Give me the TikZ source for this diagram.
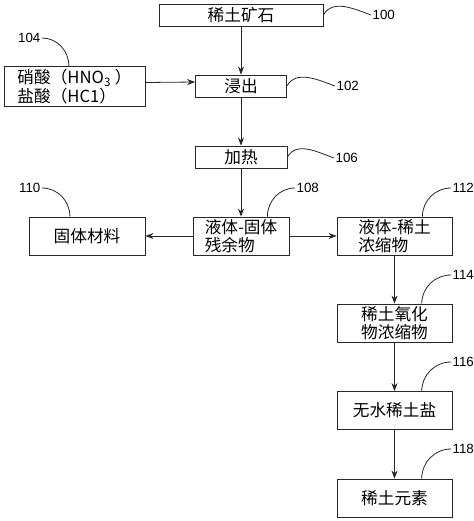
\documentclass[tikz,border=0pt]{standalone}
\usepackage{fontspec}
\setmainfont{Liberation Sans}
\newfontfamily\cjk{Noto Sans CJK SC}
\usetikzlibrary{arrows.meta}
\tikzset{
  box/.style={draw=black!85, line width=0.6pt, inner sep=2pt, align=left,
    font=\cjk\fontsize{12.5}{13}\selectfont},
  flow/.style={draw=black!85, line width=0.6pt, -{Stealth[length=6pt,width=4.5pt]}},
  callout/.style={draw=black!85, line width=0.6pt},
  num/.style={inner sep=1pt, font=\fontsize{10}{12}\selectfont},
}
\begin{document}
\begin{tikzpicture}[x=0.75pt,y=0.75pt]
\useasboundingbox (0,0) rectangle (474,-521);
% boxes
\node[box, minimum width=123pt, minimum height=16.5pt] (ore) at (241,-15) {稀土矿石};
\node[box, minimum width=105.75pt, minimum height=27.75pt] (acid) at (74.5,-86.5) {硝酸（HNO\textsubscript{3} ）\\盐酸（HC1）};
\node[box, minimum width=68.25pt, minimum height=16.5pt] (leach) at (241,-86) {浸出};
\node[box, minimum width=69pt, minimum height=16.5pt] (heat) at (241,-157) {加热};
\node[box, minimum width=72pt, minimum height=28.5pt] (resid) at (241,-236) {液体-固体\\残余物};
\node[box, minimum width=87pt, minimum height=28.5pt] (solid) at (87,-236) {固体材料};
\node[box, minimum width=86.25pt, minimum height=28.5pt] (conc) at (394.5,-236) {液体-稀土\\浓缩物};
\node[box, minimum width=86.25pt, minimum height=28.5pt] (oxide) at (394.5,-323) {稀土氧化\\物浓缩物};
\node[box, minimum width=86.25pt, minimum height=28.5pt] (salt) at (394.5,-410.5) {无水稀土盐};
\node[box, minimum width=86.25pt, minimum height=28.5pt] (elem) at (394.5,-498) {稀土元素};
%
% arrows
\draw[flow] (ore) -- (leach);
\draw[flow] ([yshift=3pt]acid.east) -- ([yshift=3pt]leach.west);
\draw[flow] (leach) -- (heat);
\draw[flow] (heat) -- (resid);
\draw[flow] (resid) -- (solid);
\draw[flow] (resid) -- (conc);
\draw[flow] (conc) -- (oxide);
\draw[flow] (oxide) -- (salt);
\draw[flow] (salt) -- (elem);
%
% labels
\node[num, anchor=west] (lab100) at (371,-15) {100};
\node[num, anchor=west] (lab102) at (335,-86) {102};
\node[num, anchor=east] (lab104) at (42,-38) {104};
\node[num, anchor=west] (lab106) at (334,-158) {106};
\node[num, anchor=west] (lab108) at (295,-188) {108};
\node[num, anchor=east] (lab110) at (42,-188) {110};
\node[num, anchor=west] (lab112) at (451,-188) {112};
\node[num, anchor=west] (lab114) at (451,-275) {114};
\node[num, anchor=west] (lab116) at (451,-362) {116};
\node[num, anchor=west] (lab118) at (451,-449) {118};
\draw[callout] (ore.east) to[out=60,in=160] (lab100.west);
\draw[callout] (leach.east) to[out=60,in=160] (lab102.west);
\draw[callout] (heat.east) to[out=60,in=160] (lab106.west);
\draw[callout] (lab104.east) to[out=0,in=90] ([xshift=49pt]acid.north west);
\draw[callout] (lab110.east) to[out=0,in=90] ([xshift=31pt]solid.north west);
\draw[callout] ([xshift=-16.5pt]resid.north east) to[out=90,in=180] (lab108.west);
\draw[callout] ([xshift=-22.5pt]conc.north east) to[out=90,in=180] (lab112.west);
\draw[callout] ([xshift=-23pt]oxide.north east) to[out=90,in=180] (lab114.west);
\draw[callout] ([xshift=-23pt]salt.north east) to[out=90,in=180] (lab116.west);
\draw[callout] ([xshift=-23pt]elem.north east) to[out=90,in=180] (lab118.west);
\end{tikzpicture}
\end{document}
